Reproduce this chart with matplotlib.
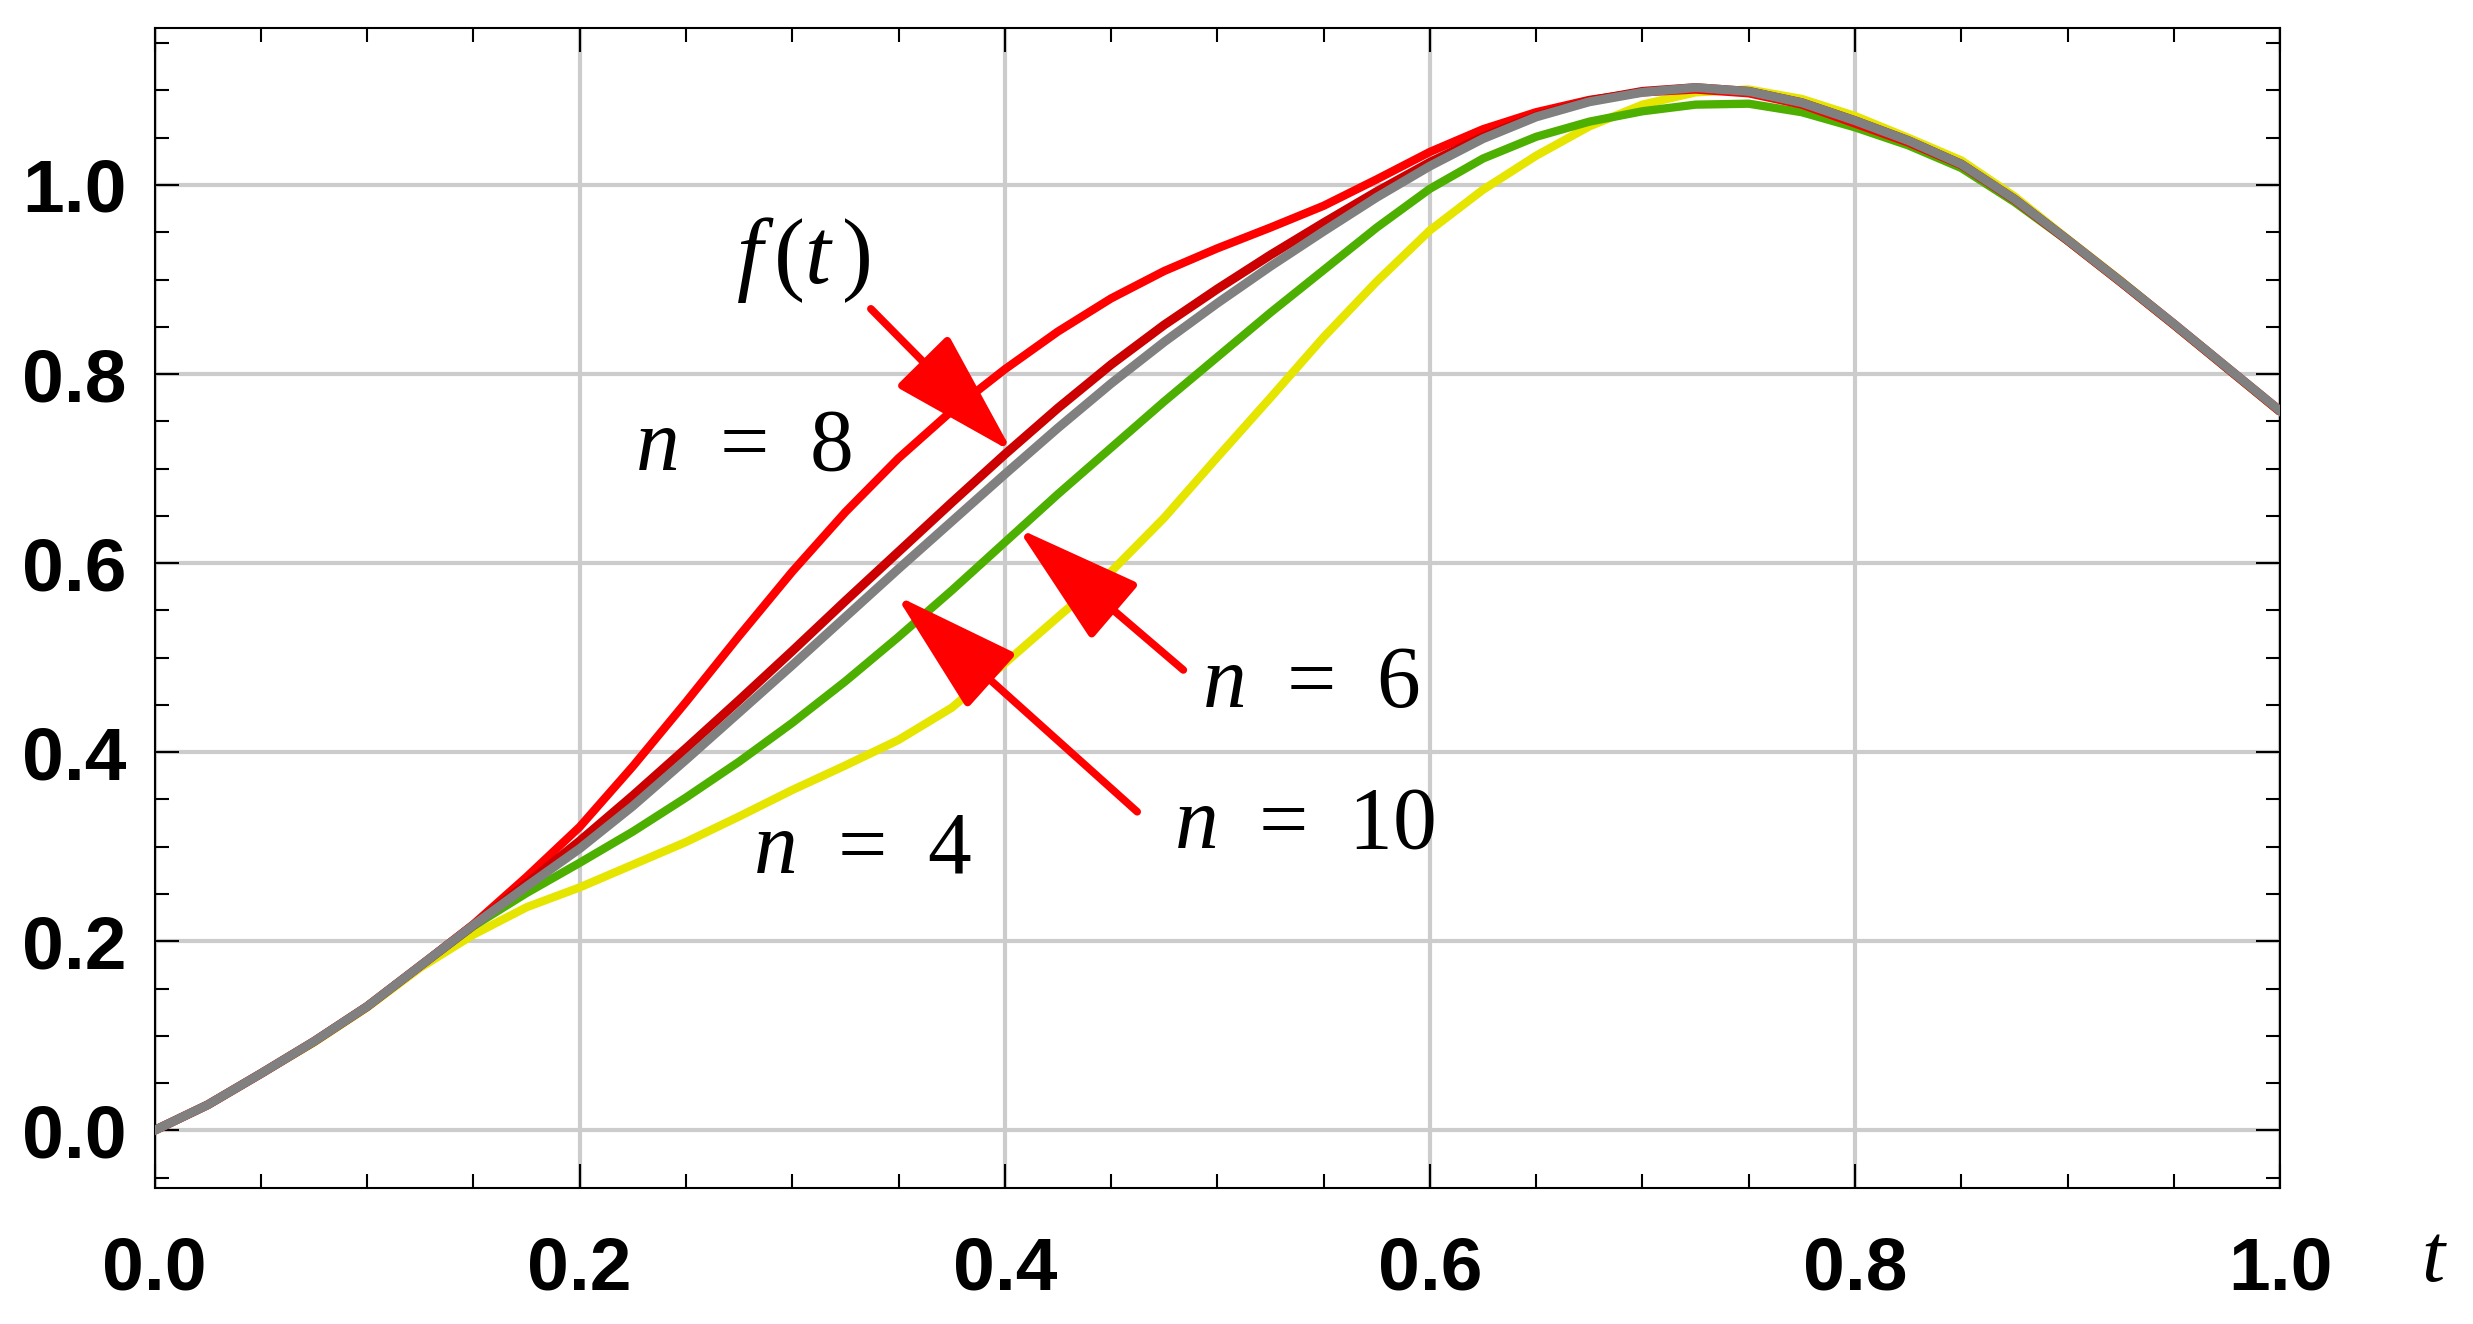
import numpy as np
import matplotlib
matplotlib.use("Agg")
import matplotlib.pyplot as plt
from matplotlib.ticker import MultipleLocator, FormatStrFormatter

plt.rcParams['mathtext.fontset'] = 'custom'
plt.rcParams['mathtext.rm'] = 'Liberation Serif'
plt.rcParams['mathtext.it'] = 'Liberation Serif:italic'

# values, t step 0.025
t = np.linspace(0, 1, 41)

f_exact = [0.000, 0.027, 0.060, 0.094, 0.131, 0.174, 0.217, 0.261, 0.306, 0.354,
           0.404, 0.455, 0.507, 0.560, 0.612, 0.664, 0.715, 0.764, 0.810, 0.852,
           0.890, 0.926, 0.960, 0.993, 1.024, 1.051, 1.073, 1.089, 1.099, 1.103,
           1.099, 1.087, 1.068, 1.047, 1.022, 0.985, 0.942, 0.898, 0.853, 0.807, 0.761]

n4 = [0.000, 0.027, 0.060, 0.093, 0.130, 0.172, 0.207, 0.236, 0.257, 0.281,
      0.305, 0.332, 0.360, 0.386, 0.413, 0.447, 0.494, 0.543, 0.591, 0.648,
      0.712, 0.775, 0.839, 0.898, 0.952, 0.995, 1.031, 1.062, 1.085, 1.098,
      1.101, 1.091, 1.073, 1.050, 1.026, 0.988, 0.943, 0.899, 0.853, 0.807, 0.761]

n6 = [0.000, 0.027, 0.060, 0.094, 0.131, 0.174, 0.216, 0.251, 0.283, 0.316,
      0.352, 0.390, 0.431, 0.475, 0.522, 0.571, 0.622, 0.673, 0.722, 0.771,
      0.818, 0.865, 0.910, 0.955, 0.996, 1.028, 1.051, 1.067, 1.078, 1.085,
      1.086, 1.077, 1.061, 1.042, 1.018, 0.982, 0.941, 0.897, 0.852, 0.806, 0.760]

n8 = [0.000, 0.027, 0.060, 0.094, 0.131, 0.174, 0.218, 0.268, 0.321, 0.385,
      0.453, 0.523, 0.591, 0.654, 0.711, 0.761, 0.805, 0.845, 0.880, 0.909,
      0.933, 0.955, 0.978, 1.006, 1.035, 1.059, 1.077, 1.090, 1.098, 1.101,
      1.097, 1.085, 1.065, 1.045, 1.021, 0.984, 0.941, 0.897, 0.852, 0.806, 0.760]

n10 = [0.000, 0.027, 0.060, 0.094, 0.131, 0.174, 0.217, 0.258, 0.298, 0.343,
       0.392, 0.442, 0.492, 0.543, 0.594, 0.644, 0.694, 0.743, 0.790, 0.834,
       0.875, 0.914, 0.951, 0.987, 1.020, 1.049, 1.072, 1.088, 1.098, 1.103,
       1.099, 1.087, 1.068, 1.047, 1.022, 0.985, 0.942, 0.898, 0.853, 0.807, 0.761]

xticks = [0.0, 0.2, 0.4, 0.6, 0.8, 1.0]
yticks = [0.0, 0.2, 0.4, 0.6, 0.8, 1.0]

fig = plt.figure(figsize=(24.73, 13.24), dpi=100)
ax = fig.add_axes([0.0625, 0.1027, 0.8595, 0.8761])

line_kw = dict(zorder=3, solid_joinstyle='round', solid_capstyle='butt')
ax.plot(t, n4, color='#e5e500', lw=6, **line_kw)
ax.plot(t, n6, color='#4daf00', lw=6, **line_kw)
ax.plot(t, n8, color='#ff0000', lw=6, **line_kw)
ax.plot(t, f_exact, color='#cc0000', lw=6.5, **line_kw)
ax.plot(t, n10, color='#808080', lw=6.5, zorder=4, solid_joinstyle='round')

ax.set_xlim(0, 1)
ax.set_ylim(-0.061, 1.166)
ax.set_xticks(xticks)
ax.set_yticks(yticks)
ax.xaxis.set_minor_locator(MultipleLocator(0.05))
ax.yaxis.set_minor_locator(MultipleLocator(0.05))
ax.xaxis.set_major_formatter(FormatStrFormatter('%.1f'))
ax.yaxis.set_major_formatter(FormatStrFormatter('%.1f'))

ax.grid(True, which='major', color='#cccccc', lw=3, zorder=0)
ax.set_axisbelow(True)

for s in ax.spines.values():
    s.set_linewidth(1.5)

ax.tick_params(which='both', direction='in', top=True, right=True, width=1.5)
ax.tick_params(which='major', length=17)
ax.tick_params(which='minor', length=10)
ax.tick_params(axis='y', which='major', pad=20)
ax.tick_params(axis='x', which='major', pad=34)
for lab in ax.get_xticklabels() + ax.get_yticklabels():
    lab.set_fontfamily('Liberation Sans')
    lab.set_fontweight('bold')
    lab.set_fontsize(54)

ax.text(1.0725, -0.06, '$t$', transform=ax.transAxes, ha='center', va='center', fontsize=60)

lab_kw = dict(ha='center', va='center', fontsize=63, zorder=6)
ax.text(0.305, 0.921, r'$f\,(t\,)$', ha='center', va='center', fontsize=67, zorder=6)
ax.text(0.277, 0.724, r'$n\;\,=\;\,8$', **lab_kw)
ax.text(0.544, 0.473, r'$n\;\,=\;\,6$', **lab_kw)
ax.text(0.541, 0.325, r'$n\;\,=\;\,10$', **lab_kw)
ax.text(0.333, 0.298, r'$n\;\,=\;\,4$', **lab_kw)

arrows = [((0.337, 0.869), (0.4036, 0.7175)),
          ((0.484, 0.487), (0.406, 0.637)),
          ((0.4623, 0.337), (0.3488, 0.566))]
for tail, tip in arrows:
    ax.annotate('', xy=tip, xytext=tail, zorder=7,
                arrowprops=dict(arrowstyle='-|>,head_length=0.8,head_width=0.23',
                                mutation_scale=100, color='#ff0000', lw=5.5,
                                shrinkA=0, shrinkB=0))

fig.savefig('out.png', dpi=100)
